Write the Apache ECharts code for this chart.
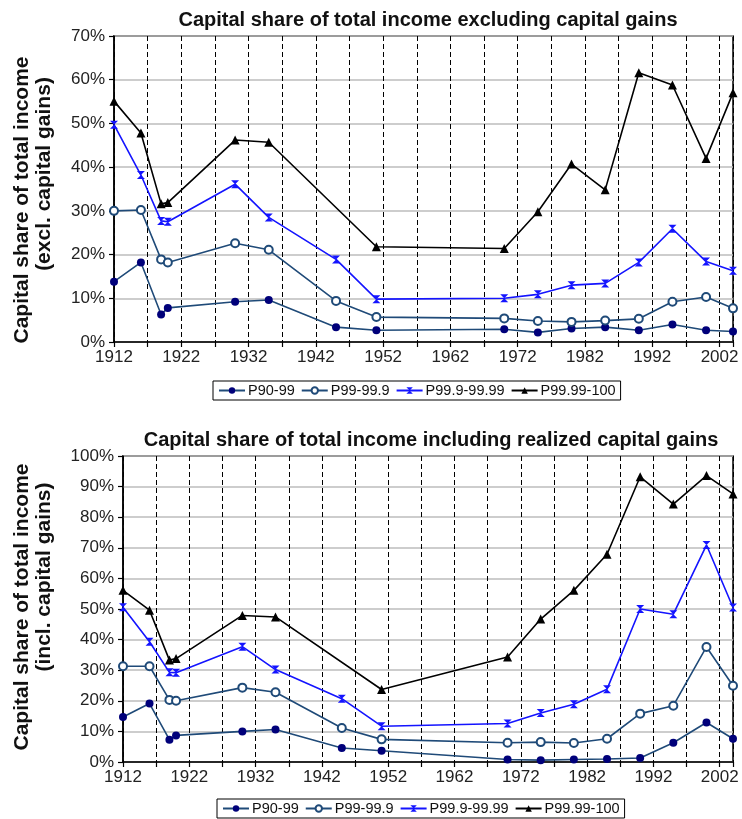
<!DOCTYPE html>
<html>
<head>
<meta charset="utf-8">
<script src="https://cdn.jsdelivr.net/npm/echarts@6/dist/echarts.min.js"></script>
<style>
html,body{margin:0;padding:0;background:#fff;}
#chart{width:742px;height:819px;}
</style>
</head>
<body>
<div id="chart"></div>
<script>
// ---- data ----
var years = [1912, 1916, 1919, 1920, 1930, 1935, 1945, 1951, 1970, 1975, 1980, 1985, 1990, 1995, 2000, 2004];
var seriesNames = ['P90-99', 'P99-99.9', 'P99.9-99.99', 'P99.99-100'];

// Top panel: excluding capital gains (%)
var exclP90_99     = [13.8, 18.2, 6.3, 7.8, 9.2, 9.6, 3.4, 2.7, 2.9, 2.2, 3.1, 3.4, 2.7, 4.0, 2.7, 2.4];
var exclP99_999    = [30.0, 30.2, 18.9, 18.2, 22.6, 21.1, 9.4, 5.7, 5.4, 4.8, 4.6, 4.9, 5.3, 9.2, 10.3, 7.7];
var exclP999_9999  = [49.7, 38.2, 27.7, 27.5, 36.1, 28.5, 18.9, 9.8, 10.0, 10.9, 13.0, 13.4, 18.2, 25.9, 18.4, 16.3];
var exclP9999_100  = [55.1, 47.8, 31.6, 31.9, 46.2, 45.7, null, 21.8, 21.4, 29.8, 40.7, 34.8, 61.6, 58.8, 42.0, 57.0];

// Bottom panel: including realized capital gains (%)
var inclP90_99     = [14.7, 19.1, 7.3, 8.7, 10.0, 10.6, 4.6, 3.7, 0.8, 0.6, 0.8, 1.0, 1.3, 6.3, 12.9, 7.6];
var inclP99_999    = [31.3, 31.3, 20.3, 20.0, 24.3, 22.8, 11.1, 7.4, 6.3, 6.5, 6.2, 7.6, 15.8, 18.4, 37.6, 24.9];
var inclP999_9999  = [50.6, 39.3, 29.3, 29.2, 37.7, 30.2, 20.7, 11.7, 12.6, 16.0, 18.9, 23.8, 50.0, 48.3, 70.9, 50.5];
var inclP9999_100  = [56.1, 49.6, 33.3, 33.8, 47.9, 47.4, null, 23.7, 34.3, 46.7, 56.1, 67.9, 93.2, 84.3, 93.6, 87.6];

var topTitle = 'Capital share of total income excluding capital gains';
var bottomTitle = 'Capital share of total income including realized capital gains';
var topYName = ['Capital share of total income', '(excl. capital gains)'];
var bottomYName = ['Capital share of total income', '(incl. capital gains)'];

// ---- styles ----
var FONT = '"Liberation Sans", Arial, Helvetica, sans-serif';
var styles = [
  {symbol: 'circle', size: 8, item: {color: '#00007a'}, line: '#1f4a78'},
  {symbol: 'emptyCircle', size: 8, item: {color: '#1f4a78', borderWidth: 1.3}, line: '#1f4a78'},
  {symbol: 'path://M0,0 L10,0 L0,10 L10,10 Z', size: 8, item: {color: '#1414ff'}, line: '#1414ff'},
  {symbol: 'triangle', size: 9, item: {color: '#000000'}, line: '#000000'}
];

function pairs(arr) { return years.map(function (y, i) { return [y, arr[i]]; }); }

function makeSeries(arrs, idx) {
  return arrs.map(function (arr, k) {
    var s = styles[k];
    return {
      name: seriesNames[k],
      type: 'line',
      xAxisIndex: idx, yAxisIndex: idx,
      data: pairs(arr),
      connectNulls: true,
      symbol: s.symbol,
      symbolSize: s.size,
      showAllSymbol: true,
      itemStyle: s.item,
      lineStyle: {color: s.line, width: 1.6},
      emphasis: {disabled: true},
      animation: false
    };
  });
}

function xAxis(idx) {
  return {
    type: 'value', gridIndex: idx, min: 1912, max: 2004, interval: 5,
    axisLine: {lineStyle: {color: '#000', width: 1.5}},
    axisTick: {length: 5, lineStyle: {color: '#000', width: 1.2}},
    axisLabel: {
      fontFamily: FONT, fontSize: 17, color: '#222', margin: 7,
      formatter: function (v) { return ((v - 1912) % 10 === 0) ? String(v) : ''; }
    },
    splitLine: {show: true, lineStyle: {color: '#000', width: 1, type: [5, 3]}}
  };
}

function yAxis(idx, max) {
  return {
    type: 'value', gridIndex: idx, min: 0, max: max, interval: 10,
    axisLine: {show: true, lineStyle: {color: '#000', width: 1.5}},
    axisTick: {show: true, length: 5, lineStyle: {color: '#000', width: 1.2}},
    axisLabel: {fontFamily: FONT, fontSize: 17, color: '#222', margin: 9, formatter: '{value}%'},
    splitLine: {show: true, lineStyle: {color: '#bdbdbd', width: 1.5}}
  };
}

function legend(left, top) {
  return {
    data: seriesNames, left: left, top: top, orient: 'horizontal',
    borderColor: '#000', borderWidth: 1, padding: [2, 5], borderRadius: 0,
    itemWidth: 26, itemHeight: 8, itemGap: 6,
    textStyle: {fontFamily: FONT, fontSize: 14.5, color: '#111', padding: [0, 0, 0, -2]},
    selectedMode: false
  };
}

function yName(lines, x1, y1, x2, y2) {
  return [
    {type: 'text', x: x1, y: y1, rotation: Math.PI / 2,
     style: {text: lines[0], font: 'bold 21px ' + FONT, fill: '#111', textAlign: 'center', textVerticalAlign: 'middle'}},
    {type: 'text', x: x2, y: y2, rotation: Math.PI / 2,
     style: {text: lines[1], font: 'bold 21px ' + FONT, fill: '#111', textAlign: 'center', textVerticalAlign: 'middle'}}
  ];
}

var chart = echarts.init(document.getElementById('chart'), null, {renderer: 'canvas'});
var option = {
  backgroundColor: '#fff',
  animation: false,
  title: [
    {text: topTitle, left: 423, top: 5, textAlign: 'center',
     textStyle: {fontFamily: FONT, fontSize: 20, fontWeight: 'bold', color: '#111'}},
    {text: bottomTitle, left: 426, top: 425, textAlign: 'center',
     textStyle: {fontFamily: FONT, fontSize: 20, fontWeight: 'bold', color: '#111'}}
  ],
  legend: [legend(213, 381), legend(217, 799)],
  grid: [
    {left: 114, right: 9, top: 36, height: 306, show: true, borderColor: '#000', borderWidth: 1.5, backgroundColor: 'transparent'},
    {left: 123, right: 9, top: 456, height: 306, show: true, borderColor: '#000', borderWidth: 1.5, backgroundColor: 'transparent'}
  ],
  xAxis: [xAxis(0), xAxis(1)],
  yAxis: [yAxis(0, 70), yAxis(1, 100)],
  graphic: yName(topYName, 22, 200, 44, 174).concat(yName(bottomYName, 22, 607, 44, 577)),
  series: makeSeries([exclP90_99, exclP99_999, exclP999_9999, exclP9999_100], 0)
    .concat(makeSeries([inclP90_99, inclP99_999, inclP999_9999, inclP9999_100], 1))
};
chart.setOption(option);
</script>
</body>
</html>
